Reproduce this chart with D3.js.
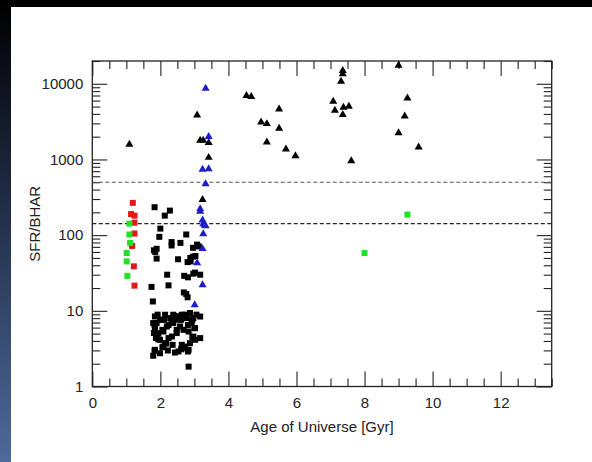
<!DOCTYPE html>
<html>
<head>
<meta charset="utf-8">
<script src="https://cdn.jsdelivr.net/npm/d3@7"></script>
<style>
html,body{margin:0;padding:0;background:#000;}
svg{display:block;}
</style>
</head>
<body>
<svg id="chart" width="592" height="462"></svg>
<script>
// ---------------- data ----------------
const xTickValues = [0, 2, 4, 6, 8, 10, 12];
const yTickLabels = ["1", "10", "100", "1000", "10000"];
const yTickValues = [1, 10, 100, 1000, 10000];
const refLines = [500, 142];

// black triangles [age Gyr, SFR/BHAR]
const blackTriangles = [
  [1.09,1580],[3.08,3860],[3.17,1780],[3.26,1780],[3.42,1660],[3.42,1060],[3.24,295],
  [4.53,6950],[4.67,6740],[4.96,3117],[5.13,2960],[5.13,1694],[5.49,4630],[5.49,2570],
  [5.69,1368],[5.97,1117],[7.08,5850],[7.13,4450],[7.31,10770],[7.36,13460],[7.36,14900],
  [7.36,3900],[7.38,4870],[7.54,5020],[7.61,959],[9.0,17500],[9.0,2250],[9.18,3740],
  [9.26,6470],[9.59,1455]
];
// blue triangles
const blueTriangles = [
  [3.33,8690],[3.42,2000],[3.24,740],[3.42,750],[3.33,476],[3.17,222],[3.17,205],
  [3.24,158],[3.26,141],[3.33,132],[3.30,135],[3.26,104],[3.24,66],[3.08,43],[3.24,22],[3.01,12]
];
// red squares
const redSquares = [
  [1.19,267],[1.14,190],[1.24,181],[1.24,146],[1.24,105],[1.17,72],[1.22,38.7],[1.24,21.5]
];
// green squares
const greenSquares = [
  [1.09,142],[1.09,102],[1.11,79],[1.01,58],[1.01,45],[1.03,29],[8.0,58],[9.26,187]
];
// black squares
const blackSquares = [
  [1.83,234],[2.13,181],[2.28,211],[2.0,122],[1.97,95],[2.33,81],[2.33,73],[2.59,79],[2.76,102],
  [1.81,63],[1.85,60],[1.89,66],[1.89,49],[2.52,48],[2.96,68],[3.08,75],[3.13,71],[2.88,50],
  [2.96,52],[3.03,53],[2.8,44],[2.89,45],[2.2,30],[2.7,29],[2.81,27.7],[2.97,31],[3.02,32],
  [3.17,30],[2.24,21.7],[1.74,20.7],[2.69,17.5],[2.76,16.7],[2.8,15.1],[1.78,13.3],
  [1.84,8.43],[1.89,6.89],[1.99,7.62],[2.14,8.88],[2.29,8.02],[2.38,8.88],[2.48,7.62],
  [2.63,8.88],[2.78,8.02],[2.87,9.35],[2.97,8.02],[2.92,6.89],[2.58,6.21],[2.38,6.89],
  [2.19,6.21],[2.09,5.33],[1.94,5.08],[1.84,5.91],[1.79,6.89],[1.99,4.14],[2.14,3.74],
  [2.24,4.36],[2.34,4.57],[2.48,5.08],[2.68,5.61],[2.83,5.33],[3.02,5.91],[3.17,4.36],
  [3.02,4.14],[2.63,3.55],[2.73,3.37],[2.53,2.9],[2.43,2.81],[2.87,3.74],[1.84,3.05],
  [1.79,2.55],[1.99,2.75],[2.09,3.37],[2.83,1.83],[2.97,4.57],[1.89,4.36],
  [1.92,8.9],[2.11,7.6],[2.39,8.5],[2.5,8.5],[2.72,8.9],[3.06,8.9],[3.17,8.4],[1.83,6.5],
  [2.06,5.6],[2.33,7.2],[2.61,7.6],[2.94,7.6],[3.0,5.9],[1.94,4.2],[2.17,3.7],[2.61,3.1],
  [2.72,3.2],[2.81,2.9],[2.83,3.05],[2.06,3.3],[2.0,7.6],[2.24,6.5],[2.48,5.6],[2.81,6.5],
  [1.81,5.1],[1.87,4.4],[1.83,2.97],[2.22,2.99],[2.36,3.55],[2.94,4.5]
];

// ---------------- layout ----------------
const W = 592, H = 462;
const plot = {left: 92.3, right: 551.7, top: 61, bottom: 386.5};
const svg = d3.select("#chart");

// background
const defs = svg.append("defs");
const grad = defs.append("linearGradient").attr("id","leftGrad")
  .attr("x1",0).attr("y1",0).attr("x2",0).attr("y2",1);
grad.append("stop").attr("offset","0%").attr("stop-color","#000000");
grad.append("stop").attr("offset","35%").attr("stop-color","#1a2338");
grad.append("stop").attr("offset","100%").attr("stop-color","#4e6a9c");
svg.append("rect").attr("x",0).attr("y",0).attr("width",W).attr("height",H).attr("fill","#000");
svg.append("rect").attr("x",0).attr("y",0).attr("width",11).attr("height",H).attr("fill","url(#leftGrad)");
svg.append("rect").attr("x",11).attr("y",7).attr("width",W-11).attr("height",H-7).attr("fill","#fff");

const x = d3.scaleLinear().domain([0, 13.5]).range([plot.left, plot.right]);
const y = d3.scaleLog().domain([1, 20000]).range([plot.bottom, plot.top]);

const font = "'Liberation Sans', Arial, Helvetica, sans-serif";
const axisColor = "#222";

// minor tick values
const xMinor = d3.range(0, 13.51, 0.5).filter(v => Math.abs(v/2 - Math.round(v/2)) > 1e-6);
const yMinor = [];
for (let d = 1; d <= 10000; d *= 10) for (let k = 2; k <= 9; k++) if (d*k <= 20000) yMinor.push(d*k);

const majorLen = 15, minorLen = 8;

function styleAxis(g){
  g.selectAll(".domain").remove();
  g.selectAll(".tick line").attr("stroke", axisColor).attr("stroke-width", 1.1);
  g.selectAll("text").attr("font-family", font).attr("font-size", 15).attr("fill", axisColor);
}

// bottom
svg.append("g").attr("transform",`translate(0,${plot.bottom})`)
  .call(d3.axisBottom(x).tickValues(xTickValues).tickFormat(d3.format("d")).tickSize(-majorLen).tickPadding(11))
  .call(styleAxis);
svg.append("g").attr("transform",`translate(0,${plot.bottom})`)
  .call(d3.axisBottom(x).tickValues(xMinor).tickFormat("").tickSize(-minorLen))
  .call(styleAxis);
// top
svg.append("g").attr("transform",`translate(0,${plot.top})`)
  .call(d3.axisTop(x).tickValues(xTickValues).tickFormat("").tickSize(-majorLen))
  .call(styleAxis);
svg.append("g").attr("transform",`translate(0,${plot.top})`)
  .call(d3.axisTop(x).tickValues(xMinor).tickFormat("").tickSize(-minorLen))
  .call(styleAxis);
// left
svg.append("g").attr("transform",`translate(${plot.left},0)`)
  .call(d3.axisLeft(y).tickValues(yTickValues).tickFormat((d,i)=>yTickLabels[i]).tickSize(-majorLen).tickPadding(9))
  .call(styleAxis);
svg.append("g").attr("transform",`translate(${plot.left},0)`)
  .call(d3.axisLeft(y).tickValues(yMinor).tickFormat("").tickSize(-minorLen))
  .call(styleAxis);
// right
svg.append("g").attr("transform",`translate(${plot.right},0)`)
  .call(d3.axisRight(y).tickValues(yTickValues).tickFormat("").tickSize(-majorLen))
  .call(styleAxis);
svg.append("g").attr("transform",`translate(${plot.right},0)`)
  .call(d3.axisRight(y).tickValues(yMinor).tickFormat("").tickSize(-minorLen))
  .call(styleAxis);

// frame
svg.append("rect").attr("x",plot.left).attr("y",plot.top)
  .attr("width",plot.right-plot.left).attr("height",plot.bottom-plot.top)
  .attr("fill","none").attr("stroke",axisColor).attr("stroke-width",1.3);

// reference dashed lines
svg.selectAll(".ref").data(refLines).enter().append("line")
  .attr("x1",plot.left).attr("x2",plot.right)
  .attr("y1",d=>y(d)).attr("y2",d=>y(d))
  .attr("stroke",(d,i)=> i===0 ? "#555" : "#222").attr("stroke-width",1.1)
  .attr("stroke-dasharray","4,2.5");

// axis titles
svg.append("text").attr("x",(plot.left+plot.right)/2).attr("y",432)
  .attr("text-anchor","middle").attr("font-family",font).attr("font-size",15).attr("fill",axisColor)
  .text("Age of Universe [Gyr]");
svg.append("text").attr("transform",`translate(40,${(plot.top+plot.bottom)/2}) rotate(-90)`)
  .attr("text-anchor","middle").attr("font-family",font).attr("font-size",15).attr("fill",axisColor)
  .text("SFR/BHAR");

// markers
const sq = 6;
function drawSquares(data, color){
  svg.append("g").selectAll("rect").data(data).enter().append("rect")
    .attr("x", d => x(d[0]) - sq/2).attr("y", d => y(d[1]) - sq/2)
    .attr("width", sq).attr("height", sq).attr("fill", color);
}
const tri = d3.symbol().type(d3.symbolTriangle).size(28);
function drawTriangles(data, color){
  svg.append("g").selectAll("path").data(data).enter().append("path")
    .attr("d", tri)
    .attr("transform", d => `translate(${x(d[0])},${y(d[1])})`)
    .attr("fill", color);
}
drawSquares(blackSquares, "#000");
drawSquares(redSquares, "#e01818");
drawSquares(greenSquares, "#22e022");
drawTriangles(blackTriangles, "#000");
drawTriangles(blueTriangles, "#1c1cc8");
</script>
</body>
</html>
